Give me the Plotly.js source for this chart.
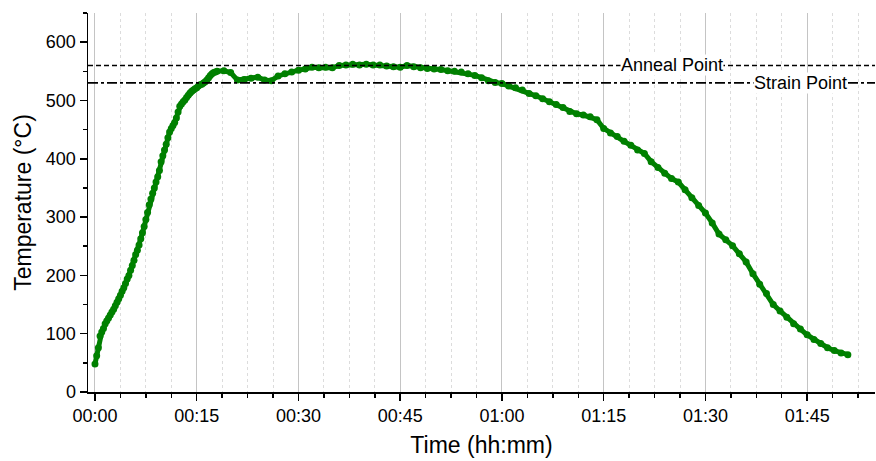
<!DOCTYPE html>
<html>
<head>
<meta charset="utf-8">
<script src="https://cdn.plot.ly/plotly-3.0.1.min.js"></script>
<style>
  html, body { margin: 0; padding: 0; background: #ffffff; }
  #chart { width: 876px; height: 461px; }
</style>
</head>
<body>
<div id="chart"></div>
<script>
// ---- Data ----
// Heating segment: sampled every 0.25 min from 00:00 to 00:18
const riseStartMin = 0;
const riseStepMin = 0.25;
const riseTempC = [
  48, 62, 76, 96, 103, 109, 117, 122, 127, 132, 137, 142, 148,
  154, 160, 166, 173, 179, 186, 194, 200, 209, 217, 226, 236,
  243, 252, 263, 273, 284, 296, 308, 321, 331, 341, 350, 360,
  369, 380, 395, 405, 415, 425, 436, 446, 452, 457, 462, 470,
  480, 490, 494, 498, 501, 505, 509, 513, 516, 518, 520, 522,
  525, 527, 528, 530, 532, 535, 539, 543, 546, 548, 549, 550
];
// Hold + cooling segment: sampled every 1 min from 00:19 to 01:51
const coolStartMin = 19;
const coolStepMin = 1;
const coolTempC = [
  551, 548, 535, 536, 538, 540, 535, 534, 542, 546,
  549, 552, 554, 557, 556, 557, 556, 560, 561, 562,
  561, 562, 561, 561, 559, 558, 557, 560, 558, 556,
  555, 554, 553, 551, 550, 549, 546, 543, 539, 534,
  531, 529, 525, 522, 518, 512, 508, 503, 498, 493,
  488, 481, 477, 475, 472, 467, 452, 444, 438, 430,
  423, 415, 409, 395, 385, 375, 366, 360, 347, 333,
  320, 307, 290, 271, 261, 251, 237, 223, 203, 185,
  169, 150, 139, 128, 117, 108, 98, 90, 83, 76,
  71, 67, 64
];
// Reference temperatures
const annealPointC = 560;
const strainPointC = 530;
const refLabels = ["Anneal Point", "Strain Point"];
const refLabelTimes = [85.1, 104];
// Axis ticks
const xTickVals = [0, 15, 30, 45, 60, 75, 90, 105];
const xTickText = ["00:00", "00:15", "00:30", "00:45", "01:00", "01:15", "01:30", "01:45"];
const yTickVals = [0, 100, 200, 300, 400, 500, 600];

// ---- Build series ----
const timeMin = [];
const tempC = [];
riseTempC.forEach((v, i) => { timeMin.push(riseStartMin + i * riseStepMin); tempC.push(v); });
coolTempC.forEach((v, i) => { timeMin.push(coolStartMin + i * coolStepMin); tempC.push(v); });

const FONT = "Liberation Sans, Arial, sans-serif";

const trace = {
  x: timeMin,
  y: tempC,
  type: "scatter",
  mode: "lines+markers",
  line: { color: "#008000", width: 5 },
  marker: { color: "#008000", size: 7 },
  hoverinfo: "skip",
  showlegend: false
};

const layout = {
  width: 876,
  height: 461,
  margin: { l: 88, r: 1, t: 13, b: 69 },
  paper_bgcolor: "#ffffff",
  plot_bgcolor: "#ffffff",
  font: { family: FONT, color: "#000000", size: 18 },
  showlegend: false,
  xaxis: {
    range: [-1.03, 115],
    tickmode: "array",
    tickvals: xTickVals,
    ticktext: xTickText,
    ticks: "outside",
    ticklen: 7,
    tickwidth: 1.5,
    tickcolor: "#000000",
    tickfont: { family: FONT, size: 18, color: "#000000" },
    showline: true,
    linecolor: "#000000",
    linewidth: 1.5,
    showgrid: true,
    gridcolor: "#c4c4c4",
    gridwidth: 1,
    zeroline: false,
    minor: {
      tickmode: "linear",
      tick0: 0,
      dtick: 3.75,
      ticks: "outside",
      ticklen: 4,
      tickwidth: 1.5,
      tickcolor: "#000000",
      showgrid: true,
      gridcolor: "#dcdcdc",
      griddash: "dot",
      gridwidth: 1
    },
    title: { text: "Time (hh:mm)", font: { family: FONT, size: 23, color: "#000000" }, standoff: 12 }
  },
  yaxis: {
    range: [0, 650],
    tickmode: "array",
    tickvals: yTickVals,
    ticks: "outside",
    ticklen: 7,
    tickwidth: 1.5,
    tickcolor: "#000000",
    tickfont: { family: FONT, size: 18, color: "#000000" },
    showline: true,
    linecolor: "#000000",
    linewidth: 1.5,
    showgrid: false,
    zeroline: false,
    minor: {
      tickmode: "linear",
      tick0: 0,
      dtick: 50,
      ticks: "outside",
      ticklen: 4,
      tickwidth: 1.5,
      tickcolor: "#000000",
      showgrid: false
    },
    title: { text: "Temperature (°C)", font: { family: FONT, size: 23, color: "#000000" }, standoff: 8 }
  },
  shapes: [
    {
      type: "line", xref: "paper", yref: "y", x0: 0, x1: 1,
      y0: annealPointC, y1: annealPointC,
      line: { color: "#000000", width: 1.7, dash: "5px,3px" },
      layer: "above"
    },
    {
      type: "line", xref: "paper", yref: "y", x0: 0, x1: 1,
      y0: strainPointC, y1: strainPointC,
      line: { color: "#000000", width: 1.7, dash: "10px,3px,3px,3px" },
      layer: "above"
    }
  ],
  annotations: [
    {
      x: refLabelTimes[0], y: annealPointC, xref: "x", yref: "y",
      text: refLabels[0], showarrow: false,
      bgcolor: "#ffffff", borderpad: 0,
      font: { family: FONT, size: 18, color: "#000000" }
    },
    {
      x: refLabelTimes[1], y: strainPointC, xref: "x", yref: "y",
      text: refLabels[1], showarrow: false,
      bgcolor: "#ffffff", borderpad: 0,
      font: { family: FONT, size: 18, color: "#000000" }
    }
  ]
};

Plotly.newPlot("chart", [trace], layout, { staticPlot: true, displayModeBar: false });
</script>
</body>
</html>
